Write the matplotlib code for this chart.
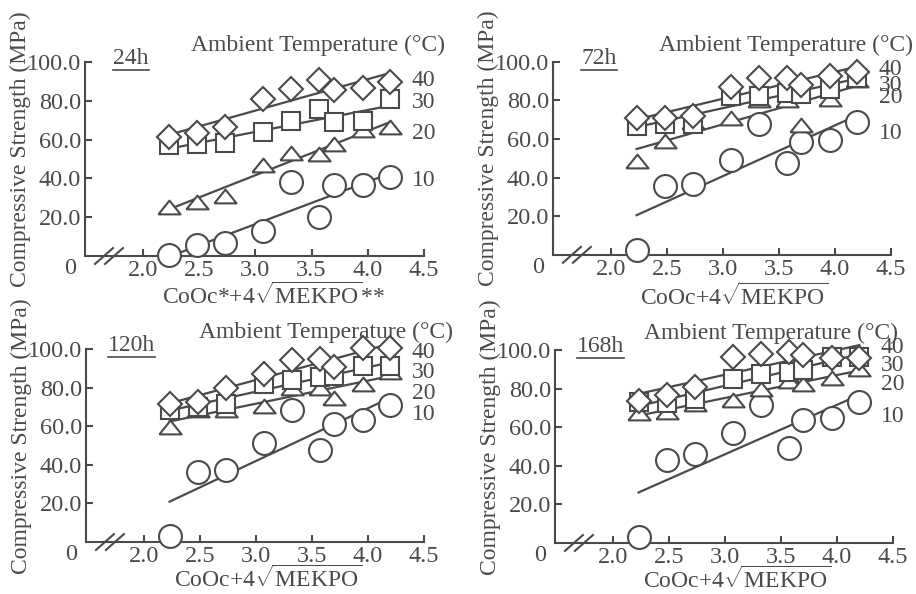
import numpy as np
import matplotlib.pyplot as plt
from matplotlib.lines import Line2D

plt.rcParams['font.family'] = ['Liberation Serif', 'DejaVu Serif']
plt.rcParams['mathtext.fontset'] = 'custom'
plt.rcParams['mathtext.rm'] = 'Liberation Serif'
plt.rcParams['mathtext.it'] = 'Liberation Serif:italic'

# CoOc + 4*sqrt(MEKPO)
dose = [2.23, 2.48, 2.73, 3.07, 3.32, 3.57, 3.70, 3.96, 4.20]
xticks = [2.0, 2.5, 3.0, 3.5, 4.0, 4.5]
yticks = [20, 40, 60, 80, 100]
hours = ['24h', '72h', '120h', '168h']
temps = ['10', '20', '30', '40']

# compressive strength (MPa), 24 h
h24_t10 = [0.3, 5.5, 6.5, 13.0, 38.0, 20.3, 36.4, 36.4, 40.9]
h24_t20 = [25.4, 28.0, 31.0, 47.0, 53.0, 52.6, 57.7, 65.0, 66.7]
h24_t30 = [57.0, 57.7, 58.0, 64.0, 69.8, 75.6, 69.0, 69.4, 80.8]
h24_t40 = [61.2, 63.2, 66.7, 81.1, 86.3, 90.7, 85.6, 86.6, 89.7]

# 72 h
h72_t10 = [2.4, 35.5, 36.6, 49.3, 68.0, 47.6, 58.3, 59.7, 69.0]
h72_t20 = [48.6, 59.0, 69.0, 70.7, 80.0, 80.0, 67.2, 81.0, 90.7]
h72_t30 = [67.0, 68.0, 68.0, 82.4, 82.4, 84.0, 83.4, 86.0, 91.7]
h72_t40 = [70.7, 70.7, 72.0, 87.0, 91.7, 91.7, 88.0, 92.8, 94.8]

# 120 h
h120_t10 = [3.1, 36.2, 37.2, 51.4, 68.3, 47.9, 61.4, 63.1, 71.0]
h120_t20 = [59.7, 68.6, 68.6, 70.7, 80.0, 80.0, 74.5, 82.0, 88.0]
h120_t30 = [68.6, 70.0, 71.7, 82.0, 83.8, 85.5, 86.0, 91.0, 91.0]
h120_t40 = [71.7, 72.4, 79.7, 87.2, 94.1, 94.8, 90.7, 100.3, 100.3]

# 168 h
h168_t10 = [3.1, 43.1, 45.9, 57.2, 71.4, 49.3, 63.8, 64.5, 73.1]
h168_t20 = [67.2, 67.9, 72.0, 74.0, 80.0, 84.0, 82.4, 85.5, 90.0]
h168_t30 = [72.8, 72.4, 74.8, 85.2, 87.6, 88.6, 89.7, 96.2, 96.6]
h168_t40 = [73.8, 76.9, 80.7, 96.2, 97.9, 99.0, 97.2, 95.7, 96.0]

panels = [
    [h24_t10, h24_t20, h24_t30, h24_t40],
    [h72_t10, h72_t20, h72_t30, h72_t40],
    [h120_t10, h120_t20, h120_t30, h120_t40],
    [h168_t10, h168_t20, h168_t30, h168_t40],
]

ink = '#4a4a4a'
fs = 17
tfs = 17.5

# flat open triangle
tri = [(-1.0, -0.62), (1.0, -0.62), (0.0, 0.62), (-1.0, -0.62)]
markers = [('o', 16.5), (tri, 16.0), ('s', 13.5), ('D', 12.0)]

# axes rectangles [left, bottom, width, height]
rects = [
    [0.0928, 0.569, 0.370, 0.3266],
    [0.6037, 0.571, 0.369, 0.3249],
    [0.0939, 0.0875, 0.369, 0.3249],
    [0.6059, 0.0859, 0.369, 0.3249],
]
xlab = [r'CoOc*+4$\sqrt{\mathrm{MEKPO}}$**',
        r'CoOc+4$\sqrt{\mathrm{MEKPO}}$',
        r'CoOc+4$\sqrt{\mathrm{MEKPO}}$',
        r'CoOc+4$\sqrt{\mathrm{MEKPO}}$']
xlab_pos = [(0.557, -0.206), (0.535, -0.218), (0.54, -0.19), (0.54, -0.19)]
# right edge of the "Ambient Temperature" heading, axes fraction
amb_x = [1.062, 1.065, 1.086, 1.015]
# y positions of the 10/20/30/40 tags at the right
tag_y = [[38.7, 63.4, 78.9, 90.7],
         [63.0, 81.3, 87.5, 95.9],
         [66.3, 77.2, 87.6, 98.4],
         [65.6, 82.2, 92.0, 101.3]]

fig = plt.figure(figsize=(9.16, 5.94), dpi=100)
x = np.array(dose)
xlo = 1.484
hour_texts = []

for k, rect in enumerate(rects):
    ax = fig.add_axes(rect)
    ax.set_xlim(xlo, 4.5)
    ax.set_ylim(0, 100)
    for side in ['top', 'right']:
        ax.spines[side].set_visible(False)
    for side in ['left', 'bottom']:
        ax.spines[side].set_color(ink)
        ax.spines[side].set_linewidth(1.5)
    ax.set_xticks(xticks)
    ax.set_xticklabels([f'{v:.1f}' for v in xticks])
    ax.set_yticks(yticks)
    ax.set_yticklabels([f'{v:.1f}' for v in yticks])
    ax.tick_params(direction='in', length=5, width=1.5, color=ink,
                   labelcolor=ink, labelsize=tfs, pad=3)
    ax.patch.set_alpha(0)

    for j, ys in enumerate(panels[k]):
        y = np.array(ys)
        # least-squares line through each temperature series
        b, a = np.polyfit(x, y, 1)
        ax.plot([x[0], x[-1]], [a + b * x[0], a + b * x[-1]],
                color=ink, lw=1.6, zorder=2, clip_on=False)
        m, ms = markers[j]
        ax.plot(x, y, linestyle='none', marker=m, ms=ms, mfc='white',
                mec=ink, mew=1.5, zorder=3 + j, clip_on=False)
        ax.text(4.39, tag_y[k][j], temps[j], color=ink, fontsize=fs,
                va='center', ha='left', clip_on=False)

    # broken x axis marks
    for x0 in [1.573, 1.662]:
        ax.add_line(Line2D([x0, x0 + 0.16], [-4.1, 4.1], color=ink, lw=1.5,
                           clip_on=False))

    ax.annotate('0', xy=(0, 0), xycoords='axes fraction', xytext=(-11, -9),
                textcoords='offset points', color=ink, fontsize=tfs,
                ha='center', va='center')
    t = ax.text(1.893, 96.5, hours[k], color=ink, fontsize=fs,
                ha='center', va='bottom')
    hour_texts.append((ax, t))
    ax.text(amb_x[k], 1.085, 'Ambient Temperature (°C)', transform=ax.transAxes,
            color=ink, fontsize=fs, ha='right', va='center')
    ax.text(-0.19, 0.55, 'Compressive Strength (MPa)', transform=ax.transAxes,
            rotation=90, color=ink, fontsize=fs, ha='center', va='center')
    ax.text(xlab_pos[k][0], xlab_pos[k][1], xlab[k], transform=ax.transAxes,
            color=ink, fontsize=fs, ha='center', va='center')

# underline the curing-time labels
fig.canvas.draw()
renderer = fig.canvas.get_renderer()
for ax, t in hour_texts:
    bb = t.get_window_extent(renderer)
    (x0, y0), (x1, _) = fig.transFigure.inverted().transform(
        [[bb.x0, bb.y0], [bb.x1, bb.y1]])
    fig.add_artist(Line2D([x0, x1], [y0 - 0.002, y0 - 0.002],
                          transform=fig.transFigure, color=ink, lw=1.2))

fig.savefig('out.png', dpi=100, facecolor='white')
